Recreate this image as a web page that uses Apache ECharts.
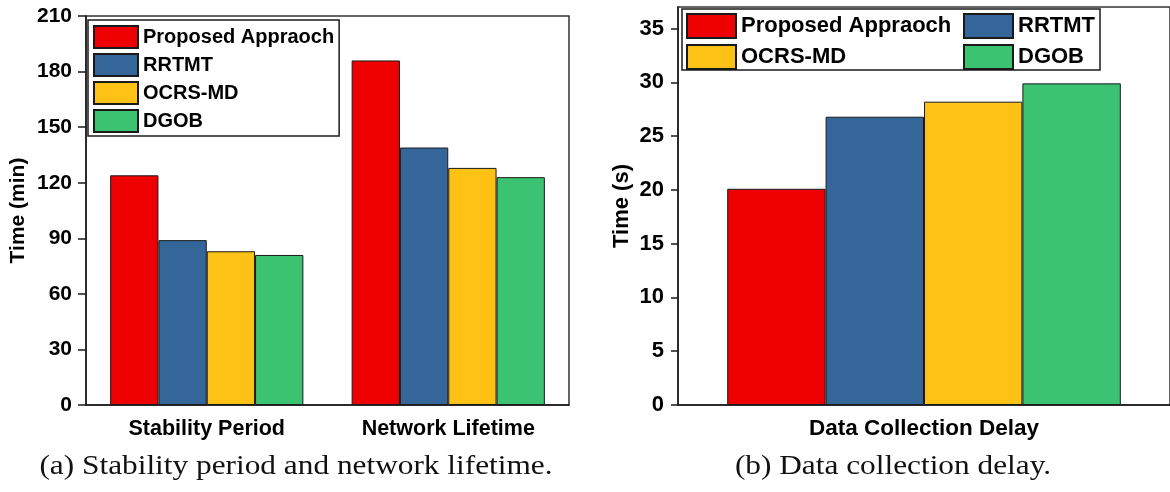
<!DOCTYPE html>
<html>
<head>
<meta charset="utf-8">
<script src="https://cdn.jsdelivr.net/npm/echarts@6/dist/echarts.min.js"></script>
<style>
html,body{margin:0;padding:0;background:#fff;}
#chart{width:1170px;height:492px;}
</style>
</head>
<body>
<div id="chart"></div>
<script>
// ---- data ----
const methods = ['Proposed Appraoch', 'RRTMT', 'OCRS-MD', 'DGOB'];
const colors = ['#EE0000', '#346699', '#FEC216', '#3BC371'];
const categoriesA = ['Stability Period', 'Network Lifetime'];
const proposedA = [124, 186];
const rrtmtA = [89, 139];
const ocrsA = [83, 128];
const dgobA = [81, 123];
const categoriesB = ['Data Collection Delay'];
const proposedB = [20.1];
const rrtmtB = [26.8];
const ocrsB = [28.2];
const dgobB = [29.9];
const yTicksB = [0, 5, 10, 15, 20, 25, 30, 35];
const captionA = '(a) Stability period and network lifetime.';
const captionB = '(b) Data collection delay.';

const seriesA = [proposedA, rrtmtA, ocrsA, dgobA];
const seriesB = [proposedB, rrtmtB, ocrsB, dgobB];

const FONT = '"Liberation Sans", Arial, sans-serif';
const AX = '#1a1a1a';

function mkSeries(vals, i, gi) {
  return {
    type: 'bar', name: methods[i], data: vals,
    xAxisIndex: gi, yAxisIndex: gi,
    barGap: '0%', barCategoryGap: '20%',
    itemStyle: { color: colors[i], borderColor: '#1a1a1a', borderWidth: 1 },
    emphasis: { disabled: true },
    animation: false
  };
}

const chart = echarts.init(document.getElementById('chart'), null, { renderer: 'canvas' });
const option = {
  animation: false,
  grid: [
    { left: 86, top: 16, width: 483, height: 389, show: true, borderColor: '#333', borderWidth: 1.5, backgroundColor: 'transparent' },
    { left: 678, top: 7, width: 493, height: 398, show: true, borderColor: '#333', borderWidth: 1.5, backgroundColor: 'transparent' }
  ],
  xAxis: [
    { type: 'category', gridIndex: 0, data: categoriesA,
      axisLine: { lineStyle: { color: AX, width: 1.5 } },
      axisTick: { alignWithLabel: true, length: 7, lineStyle: { color: AX, width: 1.5 } },
      axisLabel: { margin: 13, color: '#000', fontFamily: FONT, fontWeight: 'bold', fontSize: 21.5 } },
    { type: 'category', gridIndex: 1, data: categoriesB,
      axisLine: { lineStyle: { color: AX, width: 1.5 } },
      axisTick: { alignWithLabel: true, length: 7, lineStyle: { color: AX, width: 1.5 } },
      axisLabel: { margin: 12, color: '#000', fontFamily: FONT, fontWeight: 'bold', fontSize: 22.5 } }
  ],
  yAxis: [
    { type: 'value', gridIndex: 0, min: 0, max: 210, interval: 30,
      name: 'Time (min)', nameLocation: 'middle', nameGap: 57,
      nameTextStyle: { color: '#000', fontFamily: FONT, fontWeight: 'bold', fontSize: 21 },
      axisLine: { show: true, lineStyle: { color: AX, width: 1.5 } },
      axisTick: { show: true, length: 8, lineStyle: { color: AX, width: 1.5 } },
      axisLabel: { margin: 14, color: '#000', fontFamily: FONT, fontWeight: 'bold', fontSize: 21 },
      splitLine: { show: false } },
    { type: 'value', gridIndex: 1, min: 0, max: 37, interval: 5,
      name: 'Time (s)', nameLocation: 'middle', nameGap: 45,
      nameTextStyle: { color: '#000', fontFamily: FONT, fontWeight: 'bold', fontSize: 22 },
      axisLine: { show: true, lineStyle: { color: AX, width: 1.5 } },
      axisTick: { show: true, length: 7, customValues: yTicksB, lineStyle: { color: AX, width: 1.5 } },
      axisLabel: { margin: 14, customValues: yTicksB, color: '#000', fontFamily: FONT, fontWeight: 'bold', fontSize: 22 },
      splitLine: { show: false } }
  ],
  legend: [
    { orient: 'vertical', left: 88, top: 20, data: methods, icon: 'rect',
      itemWidth: 44, itemHeight: 22, itemGap: 4,
      padding: [5, 5, 3, 5], borderColor: '#1a1a1a', borderWidth: 1.5,
      selectedMode: false,
      textStyle: { color: '#000', fontFamily: FONT, fontWeight: 'bold', fontSize: 20 } },
    { orient: 'vertical', left: 686, top: 13, data: [methods[0], methods[2]], icon: 'rect',
      itemWidth: 49, itemHeight: 24, itemGap: 5, padding: 0, selectedMode: false,
      textStyle: { color: '#000', fontFamily: FONT, fontWeight: 'bold', fontSize: 22 } },
    { orient: 'vertical', left: 963, top: 13, data: [methods[1], methods[3]], icon: 'rect',
      itemWidth: 49, itemHeight: 24, itemGap: 5, padding: 0, selectedMode: false,
      textStyle: { color: '#000', fontFamily: FONT, fontWeight: 'bold', fontSize: 22 } }
  ],
  graphic: [
    { type: 'rect', shape: { x: 682, y: 9, width: 418, height: 61 },
      style: { fill: 'none', stroke: '#1a1a1a', lineWidth: 1.5 }, z: 100 },
    { type: 'text', x: 296, y: 467, scaleX: 1.16,
      style: { text: captionA, font: '27px "Liberation Serif", "DejaVu Serif", serif', fill: '#111', align: 'center', verticalAlign: 'middle' } },
    { type: 'text', x: 893, y: 467, scaleX: 1.16,
      style: { text: captionB, font: '27px "Liberation Serif", "DejaVu Serif", serif', fill: '#111', align: 'center', verticalAlign: 'middle' } }
  ],
  series: [
    ...seriesA.map((v, i) => mkSeries(v, i, 0)),
    ...seriesB.map((v, i) => mkSeries(v, i, 1))
  ]
};
chart.setOption(option);
</script>
</body>
</html>
